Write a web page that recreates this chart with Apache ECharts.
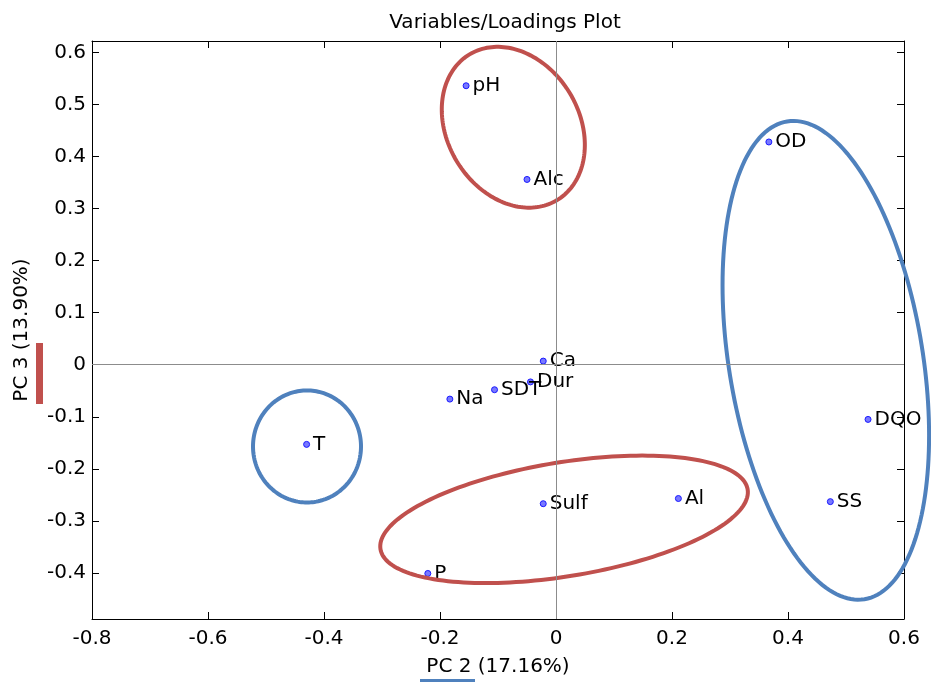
<!DOCTYPE html>
<html>
<head>
<meta charset="utf-8">
<script src="https://cdn.jsdelivr.net/npm/echarts@6/dist/echarts.min.js"></script>
<style>html,body{margin:0;padding:0;background:#fff;}#c{width:931px;height:682px;}</style>
</head>
<body>
<div id="c"></div>
<script>
// ---- data ----
const variables = ['pH','Alc','OD','Ca','Dur','SDT','Na','T','DQO','Sulf','Al','SS','P'];
const pc2 = [-0.155, -0.050, 0.367, -0.022, -0.044, -0.106, -0.183, -0.430, 0.538, -0.022, 0.211, 0.473, -0.221];
const pc3 = [0.536, 0.356, 0.428, 0.007, -0.033, -0.048, -0.066, -0.153, -0.105, -0.267, -0.257, -0.263, -0.401];
const xTicks = [-0.8, -0.6, -0.4, -0.2, 0, 0.2, 0.4, 0.6];
const yTicks = [-0.4, -0.3, -0.2, -0.1, 0, 0.1, 0.2, 0.3, 0.4, 0.5, 0.6];
const titleText = 'Variables/Loadings Plot';
const xName = 'PC 2 (17.16%)';
const yName = 'PC 3 (13.90%)';
// highlight ellipses (centres in data units)
const ellipseCX = [-0.0736, 0.4652, -0.4293, 0.0139];
const ellipseCY = [0.4563, 0.0085, -0.157, -0.297];

// ---- styling / geometry (pixels) ----
const ellipseA = [85, 242, 54, 186];
const ellipseB = [66, 97, 56, 57];
const ellipseAngle = [59, 80.8, 0, -9.25];
const RED = '#C0504D', BLUE = '#4F81BD';
const ellipseColor = [RED, BLUE, BLUE, RED];
const FONT = 'DejaVu Sans';

const chart = echarts.init(document.getElementById('c'), null, {renderer: 'canvas'});
const fmt = v => String(Math.round(v * 10) / 10);

const axisCommon = {
  axisLine: {show: true, onZero: false, lineStyle: {color: '#000', width: 1}},
  axisTick: {show: true, inside: true, length: 7, lineStyle: {color: '#000'}},
  splitLine: {show: false}
};

const option = {
  backgroundColor: '#fff',
  animation: false,
  title: {
    text: titleText, left: 500, top: 8, textAlign: 'center',
    textStyle: {fontFamily: FONT, fontSize: 20, fontWeight: 'normal', color: '#000'}
  },
  grid: {left: 92, right: 27, top: 41, bottom: 61},
  xAxis: [
    Object.assign({}, axisCommon, {
      type: 'value', position: 'bottom', min: -0.8, max: 0.6,
      axisTick: Object.assign({}, axisCommon.axisTick, {customValues: xTicks}),
      axisLabel: {customValues: xTicks, formatter: fmt, margin: 10, fontFamily: FONT, fontSize: 20, color: '#000'},
      name: xName, nameLocation: 'middle', nameGap: 38,
      nameTextStyle: {fontFamily: FONT, fontSize: 20, color: '#000'}
    }),
    Object.assign({}, axisCommon, {
      type: 'value', position: 'top', min: -0.8, max: 0.6,
      axisTick: Object.assign({}, axisCommon.axisTick, {customValues: xTicks}),
      axisLabel: {show: false}
    })
  ],
  yAxis: [
    Object.assign({}, axisCommon, {
      type: 'value', position: 'left', min: -0.4885, max: 0.622,
      axisTick: Object.assign({}, axisCommon.axisTick, {customValues: yTicks}),
      axisLabel: {customValues: yTicks, formatter: fmt, margin: 6, fontFamily: FONT, fontSize: 20, color: '#000'},
      name: yName, nameLocation: 'middle', nameGap: 60, nameRotate: 90,
      nameTextStyle: {fontFamily: FONT, fontSize: 20, color: '#000'}
    }),
    Object.assign({}, axisCommon, {
      type: 'value', position: 'right', min: -0.4885, max: 0.622,
      axisTick: Object.assign({}, axisCommon.axisTick, {customValues: yTicks}),
      axisLabel: {show: false}
    })
  ],
  series: [
    {
      type: 'scatter',
      xAxisIndex: 0, yAxisIndex: 0,
      z: 3,
      symbol: 'circle', symbolSize: 6,
      itemStyle: {color: '#7878ff', borderColor: '#1a1aff', borderWidth: 1, opacity: 1},
      label: {
        show: true, position: 'right', distance: 3,
        formatter: p => p.data[2],
        fontFamily: FONT, fontSize: 20, color: '#000'
      },
      data: variables.map((n, i) => [pc2[i], pc3[i], n]),
      markLine: {
        silent: true, symbol: ['none', 'none'], label: {show: false},
        lineStyle: {color: '#8c8c8c', width: 1, type: 'solid'},
        data: [{xAxis: 0}, {yAxis: 0}]
      }
    },
    {
      type: 'custom',
      xAxisIndex: 0, yAxisIndex: 0,
      z: 4,
      clip: false,
      silent: true,
      data: ellipseCX.map((x, i) => [x, ellipseCY[i], i]),
      renderItem: function (params, api) {
        const i = api.value(2);
        const c = api.coord([api.value(0), api.value(1)]);
        const a = ellipseA[i], b = ellipseB[i], th = ellipseAngle[i] * Math.PI / 180;
        const pts = [];
        for (let k = 0; k < 180; k++) {
          const t = k / 180 * Math.PI * 2;
          const ex = a * Math.cos(t), ey = b * Math.sin(t);
          pts.push([c[0] + ex * Math.cos(th) - ey * Math.sin(th),
                    c[1] + ex * Math.sin(th) + ey * Math.cos(th)]);
        }
        return {
          type: 'polygon',
          shape: {points: pts},
          style: {fill: 'none', stroke: ellipseColor[i], lineWidth: 4}
        };
      }
    }
  ],
  graphic: [
    {type: 'rect', left: 36, top: 343, shape: {width: 7, height: 61}, style: {fill: RED}},
    {type: 'rect', left: 420, top: 679, shape: {width: 55, height: 3}, style: {fill: BLUE}}
  ]
};
chart.setOption(option);
</script>
</body>
</html>
